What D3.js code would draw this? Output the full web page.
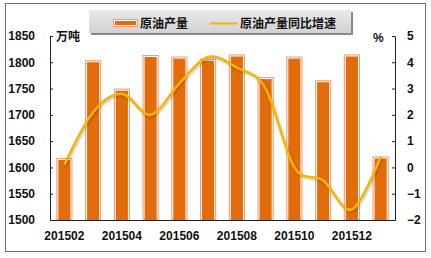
<!DOCTYPE html>
<html><head><meta charset="utf-8">
<script src="https://cdn.jsdelivr.net/npm/d3@7"></script>
<style>
html,body{margin:0;padding:0;background:#fff;}
svg{display:block;}
</style></head>
<body>
<script>
const categories = ["201502","201503","201504","201505","201506","201507","201508","201509","201510","201511","201512","201601"];
const output = [1615, 1801, 1747, 1811, 1808, 1804, 1812, 1769, 1808, 1763, 1812, 1618];
const growth = [0.1, 2.1, 2.8, 2.0, 3.2, 4.2, 3.8, 3.0, 0.0, -0.5, -1.6, 0.4];
const leftTicks = [1500, 1550, 1600, 1650, 1700, 1750, 1800, 1850];
const rightTicks = [-2, -1, 0, 1, 2, 3, 4, 5];
const xLabels = ["201502","201504","201506","201508","201510","201512"];
const seriesNames = ["原油产量", "原油产量同比增速"];

const W = 431, H = 258;
const svg = d3.select("body").append("svg").attr("width", W).attr("height", H);
const defs = svg.append("defs");
const lg = defs.append("linearGradient").attr("id","lgd").attr("x1",0).attr("y1",0).attr("x2",0).attr("y2",1);
lg.append("stop").attr("offset","0%").attr("stop-color","#e9e9e9");
lg.append("stop").attr("offset","100%").attr("stop-color","#d2d2d2");
const sh = defs.append("filter").attr("id","lsh").attr("x","-10%").attr("y","-20%").attr("width","120%").attr("height","160%");
sh.append("feDropShadow").attr("dx",0.8).attr("dy",1.2).attr("stdDeviation",0.8).attr("flood-color","#000").attr("flood-opacity",0.3);

// chart border
svg.append("rect").attr("x",5.5).attr("y",3.5).attr("width",420).attr("height",248)
  .attr("fill","#fff").attr("stroke","#6b6b6b").attr("stroke-width",1);

const x0 = 50, x1 = 395, yTop = 36, yBot = 220;
const x = d3.scaleBand().domain(categories).range([x0, x1]).paddingInner(0.44).paddingOuter(0.22);
const yL = d3.scaleLinear().domain([1500, 1850]).range([yBot, yTop]);
const yR = d3.scaleLinear().domain([-2, 5]).range([yBot, yTop]);

const numFont = "'Liberation Sans', Arial, sans-serif";
const cjkFont = "'Noto Sans CJK SC', sans-serif";

// bars
const bars = svg.append("g");
bars.selectAll("rect.o").data(categories).join("rect")
  .attr("x", d => x(d) + 0.5)
  .attr("y", (d,i) => yL(output[i]) - 1)
  .attr("width", x.bandwidth() - 1)
  .attr("height", (d,i) => yBot - yL(output[i]) + 1)
  .attr("fill", "#fff").attr("stroke", "#f0a070").attr("stroke-width", 1.1);
bars.selectAll("rect.i").data(categories).join("rect")
  .attr("x", d => x(d) + 2)
  .attr("y", (d,i) => yL(output[i]) + 0.5)
  .attr("width", x.bandwidth() - 4)
  .attr("height", (d,i) => yBot - yL(output[i]) - 0.5)
  .attr("fill", "#e26b0a");

// axes
const axL = svg.append("g").attr("transform", `translate(${x0},0)`)
  .call(d3.axisLeft(yL).tickValues(leftTicks).tickFormat(d3.format("d")).tickSizeInner(-3).tickSizeOuter(0).tickPadding(15));
axL.select(".domain").attr("stroke","#222");
axL.selectAll(".tick line").attr("stroke","#222");
axL.selectAll("text").attr("font-family", numFont).attr("font-weight","bold").attr("font-size", 12).attr("fill","#111");

const axR = svg.append("g").attr("transform", `translate(${x1},0)`)
  .call(d3.axisRight(yR).tickValues(rightTicks).tickFormat(d3.format("d")).tickSizeInner(-3).tickSizeOuter(0).tickPadding(12));
axR.select(".domain").attr("stroke","#222");
axR.selectAll(".tick line").attr("stroke","#222");
axR.selectAll("text").attr("font-family", numFont).attr("font-weight","bold").attr("font-size", 12).attr("fill","#111");

const axB = svg.append("g").attr("transform", `translate(0,${yBot})`)
  .call(d3.axisBottom(x).tickValues(xLabels).tickSize(0).tickPadding(11));
axB.select(".domain").attr("stroke","#222");
axB.selectAll("text").attr("font-family", numFont).attr("font-weight","bold").attr("font-size", 12).attr("fill","#111");

// unit labels
svg.append("text").attr("x", 56).attr("y", 41).text("万吨")
  .attr("font-family", cjkFont).attr("font-weight","bold").attr("font-size", 12).attr("fill","#111");
svg.append("text").attr("x", 373).attr("y", 42).text("%")
  .attr("font-family", numFont).attr("font-weight","bold").attr("font-size", 12).attr("fill","#111");

// line
const line = d3.line()
  .x((d,i) => x(categories[i]) + x.bandwidth()/2)
  .y(d => yR(d))
  .curve(d3.curveCardinal.tension(0));
svg.append("path").datum(growth).attr("d", line)
  .attr("fill","none").attr("stroke","#f5b400").attr("stroke-width",2.5)
  .attr("filter","url(#lsh)");

// legend
const leg = svg.append("g");
leg.append("rect").attr("x",91).attr("y",12).attr("width",262).attr("height",23).attr("fill","#8a8a8a");
leg.append("rect").attr("x",89).attr("y",10).attr("width",262).attr("height",23).attr("fill","url(#lgd)");
leg.append("rect").attr("x",113.5).attr("y",19.5).attr("width",24).attr("height",7).attr("fill","#fff").attr("stroke","#f0a070").attr("stroke-width",1.1);
leg.append("rect").attr("x",115).attr("y",21).attr("width",21).attr("height",4).attr("fill","#e26b0a");
leg.append("text").attr("x",140).attr("y",27.5).text(seriesNames[0])
  .attr("font-family", cjkFont).attr("font-weight","bold").attr("font-size", 12).attr("fill","#111");
leg.append("line").attr("x1",210).attr("x2",237).attr("y1",23.5).attr("y2",23.5).attr("stroke","#f5b400").attr("stroke-width",2);
leg.append("text").attr("x",240).attr("y",27.5).text(seriesNames[1])
  .attr("font-family", cjkFont).attr("font-weight","bold").attr("font-size", 12).attr("fill","#111");
</script>
</body></html>
